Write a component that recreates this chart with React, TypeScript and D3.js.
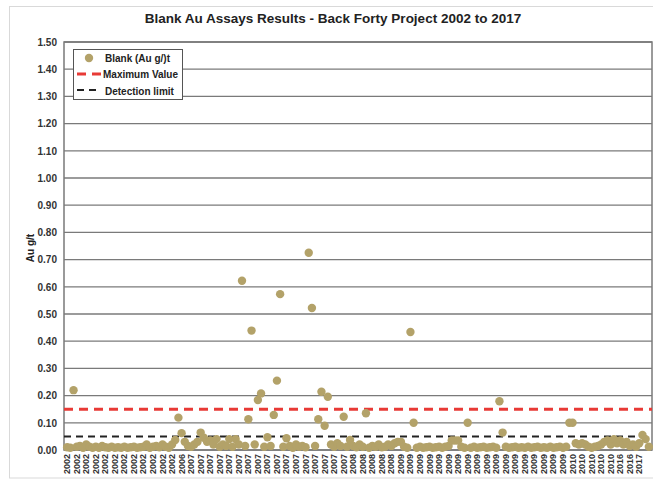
import React, { useEffect, useRef } from 'react'
import * as d3 from 'd3'

// x axis category labels (one label every 3 samples)
const yearLabels: string[] = [
  '2002', '2002', '2002', '2002', '2002', '2002', '2002', '2002', '2002', '2002', '2002', '2002',
  '2006',
  '2007', '2007', '2007', '2007', '2007', '2007', '2007', '2007', '2007', '2007', '2007', '2007',
  '2007', '2007', '2007', '2007', '2007',
  '2008', '2008', '2008', '2008', '2008',
  '2009', '2009', '2009', '2009', '2009', '2009', '2009', '2009', '2009', '2009', '2009', '2009',
  '2009', '2009', '2009', '2009', '2009', '2009',
  '2010', '2010', '2010', '2010', '2010',
  '2016', '2016',
  '2017'
]

// blank Au results (g/t), in sample order
const blankAu: number[] = [
  0.01, 0.008, 0.22, 0.012, 0.015, 0.008, 0.02, 0.012, 0.008, 0.012,
  0.008, 0.015, 0.01, 0.008, 0.012, 0.008, 0.01, 0.008, 0.012, 0.008,
  0.01, 0.012, 0.008, 0.01, 0.012, 0.02, 0.008, 0.012, 0.015, 0.01,
  0.02, 0.012, 0.008, 0.02, 0.037, 0.119, 0.062, 0.03, 0.015, 0.012,
  0.02, 0.03, 0.064, 0.045, 0.03, 0.035, 0.02, 0.04, 0.012, 0.02,
  0.015, 0.04, 0.012, 0.04, 0.02, 0.622, 0.015, 0.113, 0.439, 0.02,
  0.184, 0.208, 0.012, 0.047, 0.015, 0.129, 0.255, 0.573, 0.012, 0.043,
  0.015, 0.008, 0.02, 0.012, 0.015, 0.01, 0.725, 0.522, 0.015, 0.113,
  0.214, 0.089, 0.196, 0.02, 0.012, 0.025, 0.015, 0.122, 0.012, 0.037,
  0.015, 0.01, 0.02, 0.012, 0.135, 0.008, 0.015, 0.012, 0.02, 0.01,
  0.012, 0.02, 0.015, 0.025, 0.03, 0.03, 0.012, 0.008, 0.434, 0.1,
  0.008, 0.012, 0.008, 0.01, 0.012, 0.008, 0.01, 0.012, 0.008, 0.012,
  0.015, 0.035, 0.035, 0.035, 0.012, 0.008, 0.1, 0.008, 0.012, 0.008,
  0.01, 0.012, 0.008, 0.01, 0.012, 0.008, 0.179, 0.064, 0.012, 0.008,
  0.01, 0.012, 0.008, 0.01, 0.008, 0.012, 0.008, 0.01, 0.012, 0.008,
  0.01, 0.008, 0.012, 0.008, 0.01, 0.012, 0.008, 0.012, 0.1, 0.1,
  0.025, 0.02, 0.025, 0.02, 0.012, 0.008, 0.012, 0.015, 0.02, 0.03,
  0.035, 0.02, 0.04, 0.025, 0.035, 0.02, 0.03, 0.015, 0.02, 0.012,
  0.025, 0.055, 0.04, 0.012
]

const maximumValue = 0.15
const detectionLimit = 0.05
const yTicks: number[] = [0, 0.1, 0.2, 0.3, 0.4, 0.5, 0.6, 0.7, 0.8, 0.9, 1.0, 1.1, 1.2, 1.3, 1.4, 1.5]

const samplesPerLabel = 3
const font = '"Liberation Sans", Arial, sans-serif'
const dotColor = '#b3a269'

const BlankChart = () => {
  const ref = useRef<SVGSVGElement>(null)

  useEffect(() => {
    const svg = d3.select(ref.current)
    svg.selectAll('*').remove()

    const margin = { top: 42, right: 1, bottom: 32, left: 64 }
    const width = 653
    const height = 482
    const plotW = width - margin.left - margin.right
    const plotH = height - margin.top - margin.bottom

    // outer chart frame
    svg.append('rect')
      .attr('x', 9.5).attr('y', 6.5).attr('width', 660).attr('height', 471.5)
      .attr('fill', '#fff').attr('stroke', '#d9d9d9')

    svg.append('text')
      .attr('x', 333).attr('y', 23)
      .attr('text-anchor', 'middle')
      .attr('font-family', font).attr('font-weight', 'bold').attr('font-size', 13.5)
      .attr('fill', '#222')
      .text('Blank Au Assays Results - Back Forty Project 2002 to 2017')

    const g = svg.append('g').attr('transform', `translate(${margin.left},${margin.top})`)

    const x = d3.scaleLinear().domain([-1, blankAu.length]).range([0, plotW])
    const y = d3.scaleLinear().domain([0, 1.5]).range([plotH, 0])

    // gridlines
    g.append('g')
      .selectAll('line')
      .data(yTicks)
      .join('line')
      .attr('x1', 0).attr('x2', plotW)
      .attr('y1', d => y(d)).attr('y2', d => y(d))
      .attr('stroke', '#7a7a7a').attr('stroke-width', 1.3)

    g.append('rect')
      .attr('x', 0).attr('y', 0).attr('width', plotW).attr('height', plotH)
      .attr('fill', 'none').attr('stroke', '#7a7a7a').attr('stroke-width', 1.5)

    // y axis
    const yAxis = g.append('g').call(d3.axisLeft(y).tickValues(yTicks).tickFormat(d3.format('.2f')).tickSize(0).tickPadding(7))
    yAxis.select('.domain').remove()
    yAxis.selectAll('text')
      .attr('font-family', font).attr('font-weight', 'bold').attr('font-size', 10).attr('fill', '#333')

    svg.append('text')
      .attr('transform', `translate(34,${margin.top + plotH / 2 + 2}) rotate(-90)`)
      .attr('text-anchor', 'middle')
      .attr('font-family', font).attr('font-weight', 'bold').attr('font-size', 10).attr('fill', '#222')
      .text('Au g/t')

    // x labels
    g.append('g')
      .selectAll('text')
      .data(yearLabels)
      .join('text')
      .attr('transform', (_d, i) => `translate(${x(i * samplesPerLabel) + 3},${plotH + 4}) rotate(-90)`)
      .attr('text-anchor', 'end')
      .attr('font-family', font).attr('font-weight', 'bold').attr('font-size', 9).attr('fill', '#333')
      .text(d => d)

    // reference lines
    g.append('line')
      .attr('x1', 0).attr('x2', plotW)
      .attr('y1', y(detectionLimit)).attr('y2', y(detectionLimit))
      .attr('stroke', '#222').attr('stroke-width', 2).attr('stroke-dasharray', '7,5')
    g.append('line')
      .attr('x1', 0).attr('x2', plotW)
      .attr('y1', y(maximumValue)).attr('y2', y(maximumValue))
      .attr('stroke', '#e83a36').attr('stroke-width', 3).attr('stroke-dasharray', '9,6')

    // points
    g.append('g')
      .selectAll('circle')
      .data(blankAu)
      .join('circle')
      .attr('cx', (_d, i) => x(i))
      .attr('cy', d => y(d))
      .attr('r', 4.2)
      .attr('fill', dotColor)

    // legend
    const lg = svg.append('g').attr('transform', 'translate(73,49)')
    lg.append('rect').attr('x', 0.5).attr('y', 0.5).attr('width', 109).attr('height', 50)
      .attr('fill', '#fff').attr('stroke', '#555').attr('stroke-width', 1)
    lg.append('circle').attr('cx', 16).attr('cy', 9).attr('r', 4.2).attr('fill', dotColor)
    lg.append('line').attr('x1', 4).attr('x2', 29).attr('y1', 25).attr('y2', 25)
      .attr('stroke', '#e83a36').attr('stroke-width', 3).attr('stroke-dasharray', '9,6')
    lg.append('line').attr('x1', 4).attr('x2', 28).attr('y1', 41).attr('y2', 41)
      .attr('stroke', '#222').attr('stroke-width', 2).attr('stroke-dasharray', '7,5')
    const items = ['Blank (Au g/)t', 'Maximum Value', 'Detection limit']
    lg.selectAll('text.lbl')
      .data(items)
      .join('text')
      .attr('class', 'lbl')
      .attr('x', (_d, i) => (i === 1 ? 30 : 32))
      .attr('y', (_d, i) => 12.5 + i * 16.5)
      .attr('font-family', font).attr('font-weight', 'bold').attr('font-size', 10).attr('fill', '#222')
      .text(d => d)
  }, [])

  return <svg ref={ref} width={653} height={482} style={{ display: 'block' }} />
}

const App = () => {
  useEffect(() => {
    document.body.style.margin = '0'
  }, [])
  return (
    <div style={{ position: 'absolute', left: 0, top: 0, background: '#fff' }}>
      <BlankChart />
    </div>
  )
}

export default App
